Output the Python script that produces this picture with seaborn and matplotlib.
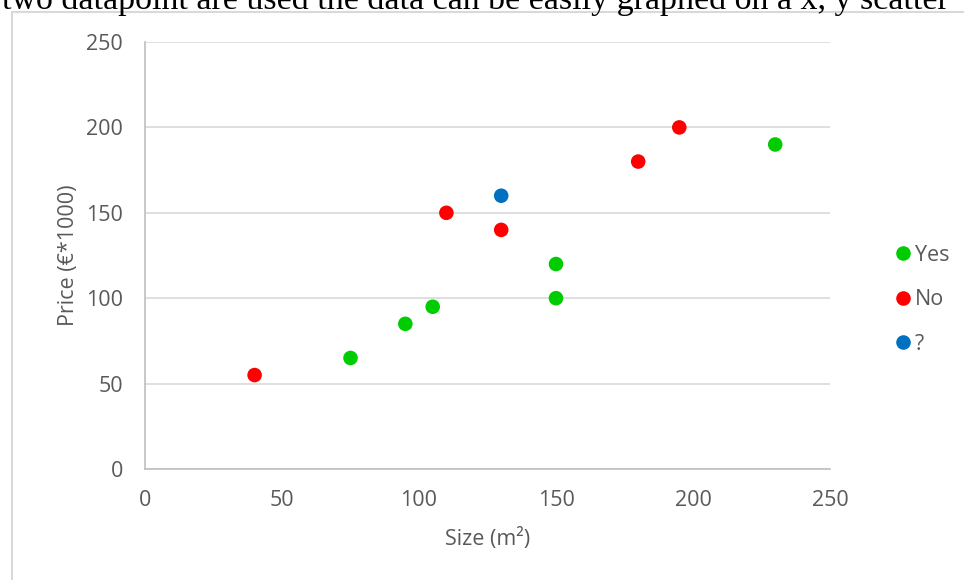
import matplotlib
matplotlib.use("Agg")
import matplotlib.pyplot as plt
from matplotlib.lines import Line2D
import seaborn as sns
import pandas as pd

# Houses: size, price and whether they were bought
size_m2 = [40, 75, 95, 105, 110, 130, 130, 150, 150, 180, 195, 230]
price_k = [55, 65, 85, 95, 150, 140, 160, 120, 100, 180, 200, 190]
bought = ["No", "Yes", "Yes", "Yes", "No", "No", "?", "Yes", "Yes", "No", "No", "Yes"]

categories = ["Yes", "No", "?"]
colors = {"Yes": "#00CC00", "No": "#FF0000", "?": "#0070C0"}
ticks = [0, 50, 100, 150, 200, 250]

df = pd.DataFrame({"Size": size_m2, "Price": price_k, "Bought": bought})

sns.set_theme(style="white")
plt.rcParams["font.family"] = ["Open Sans", "DejaVu Sans"]

FS = 15.5
TXT = "#595959"

fig = plt.figure(figsize=(9.64, 5.8), dpi=100)
ax = fig.add_axes([145 / 964, 1 - 469 / 580, (830 - 145) / 964, (469 - 42) / 580])

sns.scatterplot(data=df, x="Size", y="Price", hue="Bought", hue_order=categories,
                palette=colors, s=110, linewidth=0, ax=ax, legend=False, zorder=3)

ax.set_xlim(0, 250)
ax.set_ylim(0, 250)
ax.set_xticks(ticks)
ax.set_yticks(ticks)
ax.yaxis.grid(True, color="#D9D9D9", linewidth=1.2)
ax.xaxis.grid(False)
ax.set_axisbelow(True)
for side in ["top", "right"]:
    ax.spines[side].set_visible(False)
for side in ["left", "bottom"]:
    ax.spines[side].set_color("#BFBFBF")
    ax.spines[side].set_linewidth(1.2)
ax.tick_params(axis="both", length=0, labelsize=FS, labelcolor=TXT)
ax.tick_params(axis="y", pad=16)
ax.tick_params(axis="x", pad=15)
ax.set_xlabel("Size (m²)", fontsize=FS, color=TXT, labelpad=12)
ax.set_ylabel("Price (€*1000)", fontsize=FS, color=TXT, labelpad=5)

handles = [Line2D([0], [0], marker="o", linestyle="", markersize=10.5,
                  markerfacecolor=colors[c], markeredgewidth=0) for c in categories]
fig.legend(handles, categories, loc="upper left", bbox_to_anchor=(884 / 964, 1 - 236 / 580),
           frameon=False, fontsize=FS, labelcolor=TXT, handletextpad=0.05,
           handlelength=1.0, labelspacing=1.1, borderaxespad=0)

# Surrounding frame of the chart object
fig.add_artist(Line2D([12 / 964, 12 / 964], [0, 1 - 12 / 580], transform=fig.transFigure,
                      color="#D9D9D9", linewidth=1.5))
fig.add_artist(Line2D([12 / 964, 1], [1 - 12 / 580, 1 - 12 / 580], transform=fig.transFigure,
                      color="#D9D9D9", linewidth=1.5))

# Body text line above the chart
fig.text(0.002, 1 - 9 / 580, "two datapoint are used the data can be easily graphed on a x, y scatter",
         family=["Liberation Serif", "DejaVu Serif"], fontsize=24.5, color="black",
         va="baseline", ha="left")

fig.savefig("out.png", dpi=100)
